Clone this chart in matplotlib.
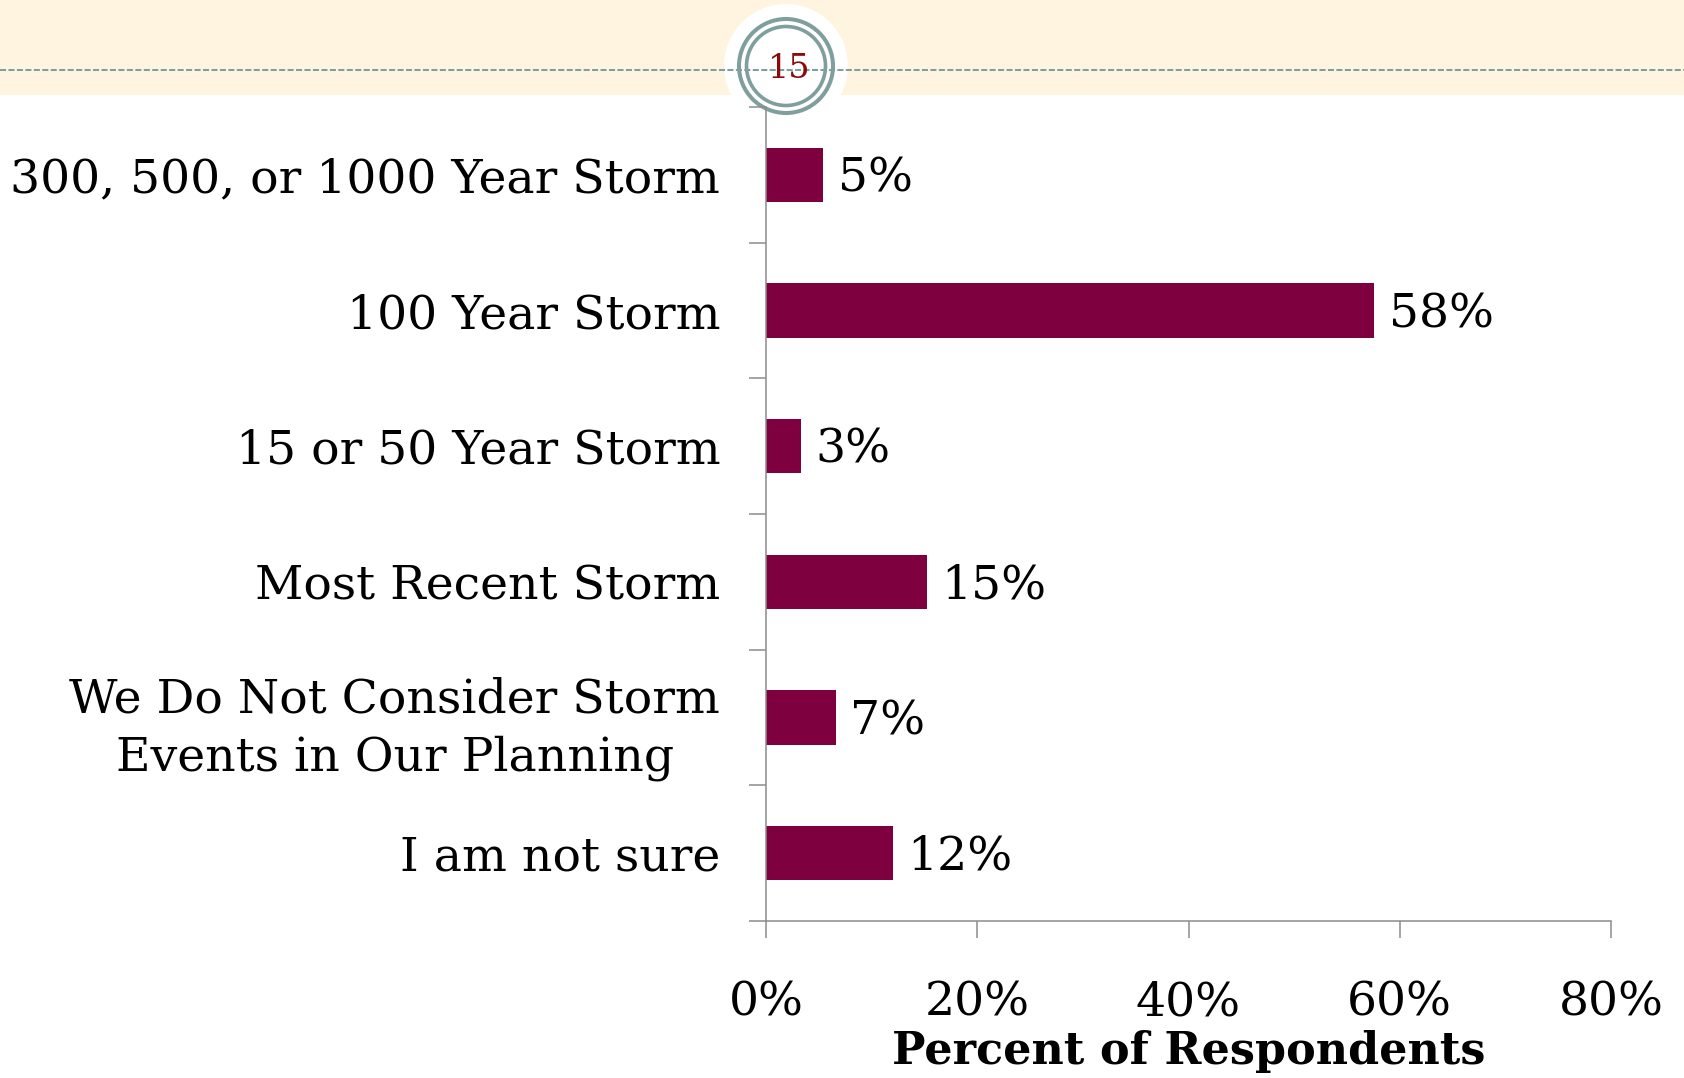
import matplotlib
matplotlib.use("Agg")
import matplotlib.pyplot as plt
from matplotlib.patches import Circle, Rectangle

# -------------------------------
# Data
# -------------------------------
categories = [
    "300, 500, or 1000 Year Storm",
    "100 Year Storm",
    "15 or 50 Year Storm",
    "Most Recent Storm",
    "We Do Not Consider Storm\nEvents in Our Planning",
    "I am not sure",
]
values = [5.4, 57.6, 3.3, 15.2, 6.6, 12.0]
value_labels = ["5%", "58%", "3%", "15%", "7%", "12%"]
x_ticks = [0, 20, 40, 60, 80]
x_tick_labels = ["0%", "20%", "40%", "60%", "80%"]
page_number = "15"

BAR_COLOR = "#7f003f"
AXIS_COLOR = "#8c8c8c"
BAND_COLOR = "#fef4df"
RING_COLOR = "#7f9e9e"
FONT = "DejaVu Serif"

W, H = 1684, 1078
fig = plt.figure(figsize=(W / 100, H / 100), dpi=100)

# -------------------------------
# Slide header (band, dashed rule, page badge)
# -------------------------------
bg = fig.add_axes([0, 0, 1, 1], zorder=0)
bg.set_xlim(0, W)
bg.set_ylim(H, 0)
bg.axis("off")
bg.add_patch(Rectangle((0, 0), W, 95, color=BAND_COLOR, lw=0))
bg.plot([0, W], [70, 70], color=RING_COLOR, lw=1.45, ls=(0, (3, 1.2)))
cx, cy = 786, 66
bg.add_patch(Circle((cx, cy), 62, color="white", lw=0))
bg.add_patch(Circle((cx, cy), 47, fill=False, ec=RING_COLOR, lw=2.9))
bg.add_patch(Circle((cx, cy), 39.5, fill=False, ec=RING_COLOR, lw=2.6))
bg.text(cx + 3, cy + 3, page_number, ha="center", va="center", fontsize=24,
        color="#8b0a0a", family=FONT)

# -------------------------------
# Bar chart
# -------------------------------
ax = fig.add_axes([766 / W, 1 - 921 / H, (1611 - 766) / W, (921 - 107) / H], zorder=1)
ax.patch.set_alpha(0)

pos = list(range(len(categories)))
ax.barh(pos, values, height=0.4, color=BAR_COLOR)

for p, v, lab in zip(pos, values, value_labels):
    ax.text(v + 1.4, p + 0.03, lab, va="center", ha="left", fontsize=34, family=FONT)

ax.set_xlim(0, 80)
ax.set_ylim(len(categories) - 0.5, -0.5)

ax.set_xticks(x_ticks)
ax.set_xticklabels(x_tick_labels, fontsize=34, family=FONT)

# category names sit between the boundary ticks
ax.set_yticks([p - 0.5 for p in pos] + [len(categories) - 0.5])
ax.set_yticklabels([])
ax.set_yticks(pos, minor=True)
ax.set_yticklabels(categories, minor=True, fontsize=34, family=FONT,
                   multialignment="center", linespacing=1.36)
ax.tick_params(axis="y", which="minor", length=0, pad=33)
ax.tick_params(axis="y", which="major", length=12, width=1.1, color=AXIS_COLOR, direction="out")
ax.tick_params(axis="x", length=12, width=1.1, color=AXIS_COLOR, direction="out", pad=31)

for s in ["top", "right"]:
    ax.spines[s].set_visible(False)
for s in ["left", "bottom"]:
    ax.spines[s].set_color(AXIS_COLOR)
    ax.spines[s].set_linewidth(1.1)

ax.set_xlabel("Percent of Respondents", fontsize=32, fontweight="bold",
              family=FONT, labelpad=3)

fig.savefig("out.png", dpi=100)
